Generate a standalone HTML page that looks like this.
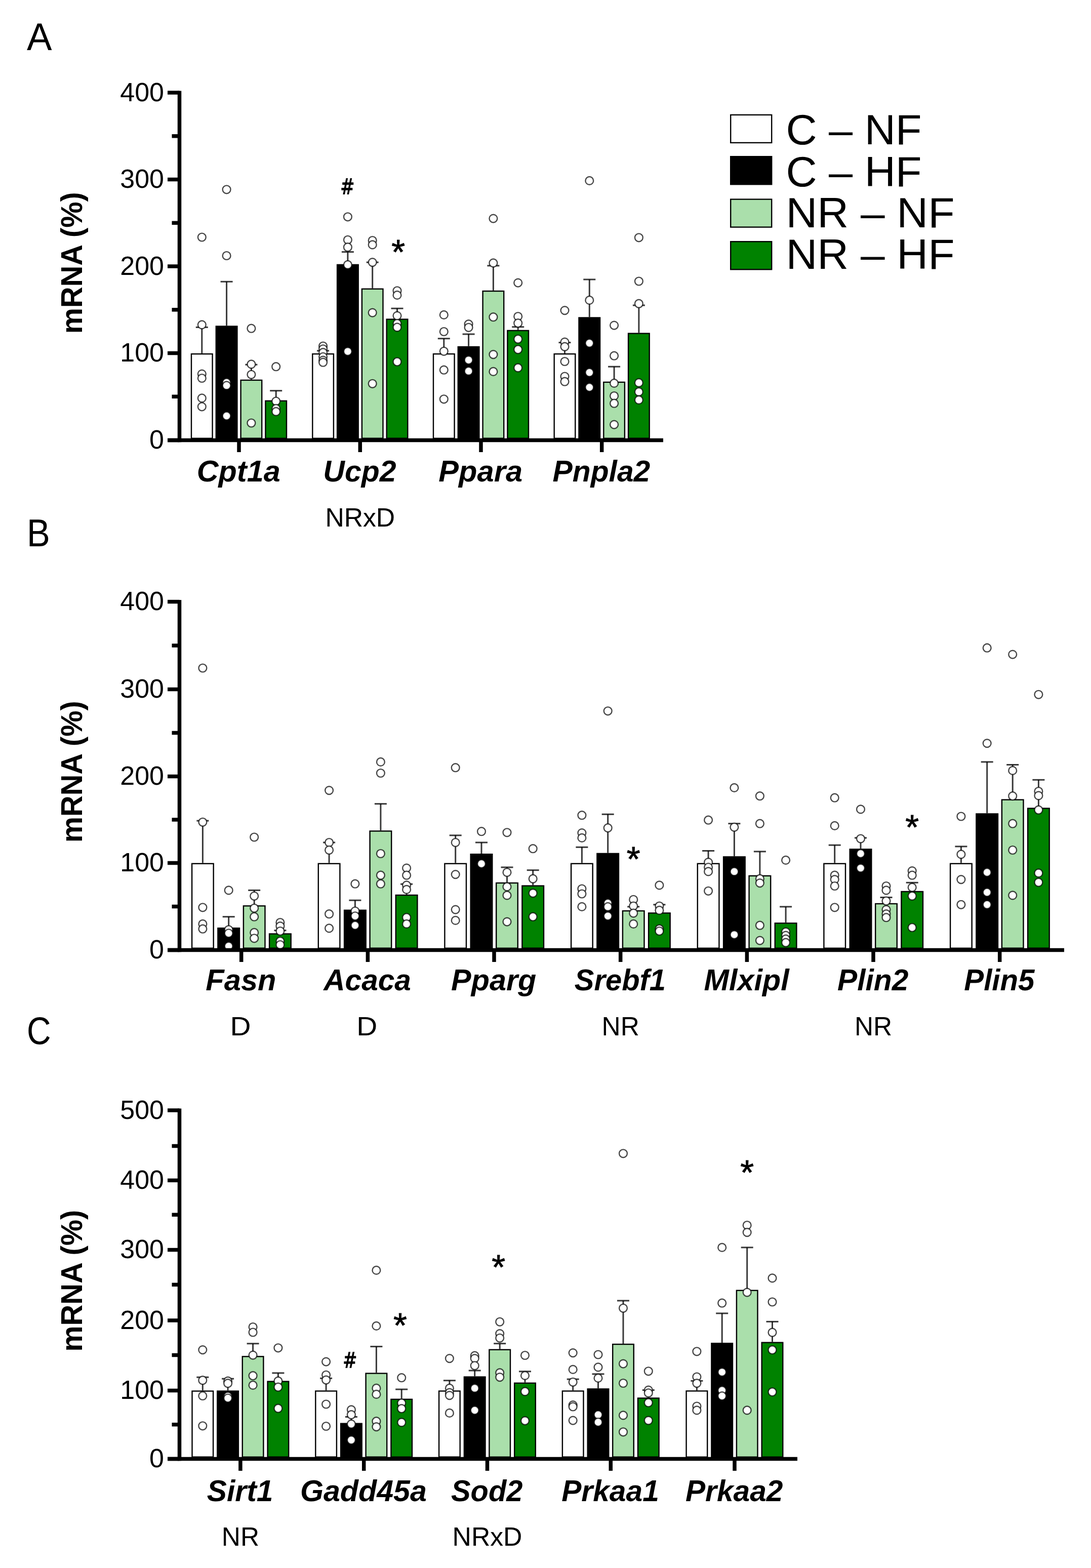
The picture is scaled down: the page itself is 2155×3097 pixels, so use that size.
<!DOCTYPE html>
<html lang="en"><head><meta charset="utf-8"><title>mRNA expression figure</title>
<style>html,body{margin:0;padding:0;background:#fff;}svg{display:block;}text{font-family:"Liberation Sans", Arial, sans-serif;}</style>
</head><body>
<svg width="2155" height="3097" viewBox="0 0 2155 3097">
<rect x="0" y="0" width="2155" height="3097" fill="#ffffff"/>
<text x="53" y="98.5" font-size="76" textLength="49.5" lengthAdjust="spacingAndGlyphs" fill="#000">A</text>
<text x="53" y="1078.6" font-size="76" textLength="45.8" lengthAdjust="spacingAndGlyphs" fill="#000">B</text>
<text x="53" y="2061.7" font-size="76" textLength="47.6" lengthAdjust="spacingAndGlyphs" fill="#000">C</text>
<rect x="1443.2" y="226.9" width="81" height="55" fill="#ffffff" stroke="#000" stroke-width="2.4"/>
<text x="1552.4" y="285" font-size="83" textLength="268.2" lengthAdjust="spacingAndGlyphs" fill="#000">C – NF</text>
<rect x="1443.2" y="309.2" width="81" height="55" fill="#000000" stroke="#000" stroke-width="2.4"/>
<text x="1552.4" y="368" font-size="83" textLength="268.2" lengthAdjust="spacingAndGlyphs" fill="#000">C – HF</text>
<rect x="1443.2" y="393.6" width="81" height="55" fill="#aadfab" stroke="#000" stroke-width="2.4"/>
<text x="1552.4" y="449.3" font-size="83" textLength="333.1" lengthAdjust="spacingAndGlyphs" fill="#000">NR – NF</text>
<rect x="1443.2" y="477.2" width="81" height="55" fill="#008200" stroke="#000" stroke-width="2.4"/>
<text x="1552.4" y="531.3" font-size="83" textLength="333.1" lengthAdjust="spacingAndGlyphs" fill="#000">NR – HF</text>
<text transform="translate(162 519.3) rotate(-90)" text-anchor="middle" font-size="60" font-weight="bold" textLength="280" lengthAdjust="spacingAndGlyphs" fill="#000">mRNA (%)</text>
<line x1="398.8" y1="697.9" x2="398.8" y2="646.4" stroke="#000" stroke-opacity="0.78" stroke-width="3"/>
<line x1="386.8" y1="646.4" x2="410.8" y2="646.4" stroke="#000" stroke-opacity="0.78" stroke-width="3"/>
<rect x="378" y="699.1" width="41.6" height="166.7" fill="#ffffff" stroke="#000" stroke-width="2.4"/>
<circle cx="398.8" cy="468.5" r="7.9" fill="#fff" stroke="#000" stroke-opacity="0.72" stroke-width="2.4"/>
<circle cx="398.8" cy="641.4" r="7.9" fill="#fff" stroke="#000" stroke-opacity="0.72" stroke-width="2.4"/>
<circle cx="398.8" cy="738.6" r="7.9" fill="#fff" stroke="#000" stroke-opacity="0.72" stroke-width="2.4"/>
<circle cx="398.8" cy="747" r="7.9" fill="#fff" stroke="#000" stroke-opacity="0.72" stroke-width="2.4"/>
<circle cx="398.8" cy="786.4" r="7.9" fill="#fff" stroke="#000" stroke-opacity="0.72" stroke-width="2.4"/>
<circle cx="398.8" cy="803.3" r="7.9" fill="#fff" stroke="#000" stroke-opacity="0.72" stroke-width="2.4"/>
<line x1="447.6" y1="643.3" x2="447.6" y2="556.3" stroke="#000" stroke-opacity="0.78" stroke-width="3"/>
<line x1="435.6" y1="556.3" x2="459.6" y2="556.3" stroke="#000" stroke-opacity="0.78" stroke-width="3"/>
<rect x="426.8" y="644.5" width="41.6" height="221.2" fill="#000000" stroke="#000" stroke-width="2.4"/>
<circle cx="447.6" cy="374.3" r="7.9" fill="#fff" stroke="#000" stroke-opacity="0.72" stroke-width="2.4"/>
<circle cx="447.6" cy="505" r="7.9" fill="#fff" stroke="#000" stroke-opacity="0.72" stroke-width="2.4"/>
<circle cx="447.6" cy="755.4" r="7.9" fill="#fff" stroke="#000" stroke-opacity="0.72" stroke-width="2.4"/>
<circle cx="447.6" cy="761.4" r="7.9" fill="#fff" stroke="#000" stroke-opacity="0.72" stroke-width="2.4"/>
<circle cx="447.6" cy="821.5" r="7.9" fill="#fff" stroke="#000" stroke-opacity="0.72" stroke-width="2.4"/>
<line x1="496.4" y1="749.7" x2="496.4" y2="720.2" stroke="#000" stroke-opacity="0.78" stroke-width="3"/>
<line x1="484.4" y1="720.2" x2="508.4" y2="720.2" stroke="#000" stroke-opacity="0.78" stroke-width="3"/>
<rect x="475.6" y="750.9" width="41.6" height="114.8" fill="#aadfab" stroke="#000" stroke-width="2.4"/>
<circle cx="496.4" cy="648.7" r="7.9" fill="#fff" stroke="#000" stroke-opacity="0.72" stroke-width="2.4"/>
<circle cx="496.4" cy="719.4" r="7.9" fill="#fff" stroke="#000" stroke-opacity="0.72" stroke-width="2.4"/>
<circle cx="496.4" cy="739.8" r="7.9" fill="#fff" stroke="#000" stroke-opacity="0.72" stroke-width="2.4"/>
<circle cx="496.4" cy="835.5" r="7.9" fill="#fff" stroke="#000" stroke-opacity="0.72" stroke-width="2.4"/>
<line x1="545.2" y1="790.6" x2="545.2" y2="771.7" stroke="#000" stroke-opacity="0.78" stroke-width="3"/>
<line x1="533.2" y1="771.7" x2="557.2" y2="771.7" stroke="#000" stroke-opacity="0.78" stroke-width="3"/>
<rect x="524.4" y="791.8" width="41.6" height="74" fill="#008200" stroke="#000" stroke-width="2.4"/>
<circle cx="545.2" cy="724.2" r="7.9" fill="#fff" stroke="#000" stroke-opacity="0.72" stroke-width="2.4"/>
<circle cx="545.2" cy="792.5" r="7.9" fill="#fff" stroke="#000" stroke-opacity="0.72" stroke-width="2.4"/>
<circle cx="545.2" cy="806.9" r="7.9" fill="#fff" stroke="#000" stroke-opacity="0.72" stroke-width="2.4"/>
<circle cx="545.2" cy="812.9" r="7.9" fill="#fff" stroke="#000" stroke-opacity="0.72" stroke-width="2.4"/>
<text x="471.2" y="951" text-anchor="middle" font-size="60" font-weight="bold" font-style="italic" fill="#000" textLength="165" lengthAdjust="spacingAndGlyphs">Cpt1a</text>
<line x1="472" y1="869.5" x2="472" y2="893" stroke="#000" stroke-width="7.5"/>
<line x1="638.1" y1="697.9" x2="638.1" y2="692.8" stroke="#000" stroke-opacity="0.78" stroke-width="3"/>
<line x1="626.1" y1="692.8" x2="650.1" y2="692.8" stroke="#000" stroke-opacity="0.78" stroke-width="3"/>
<rect x="617.3" y="699.1" width="41.6" height="166.7" fill="#ffffff" stroke="#000" stroke-width="2.4"/>
<circle cx="638.1" cy="683.5" r="7.9" fill="#fff" stroke="#000" stroke-opacity="0.72" stroke-width="2.4"/>
<circle cx="638.1" cy="689.3" r="7.9" fill="#fff" stroke="#000" stroke-opacity="0.72" stroke-width="2.4"/>
<circle cx="638.1" cy="696.2" r="7.9" fill="#fff" stroke="#000" stroke-opacity="0.72" stroke-width="2.4"/>
<circle cx="638.1" cy="704.8" r="7.9" fill="#fff" stroke="#000" stroke-opacity="0.72" stroke-width="2.4"/>
<circle cx="638.1" cy="711.6" r="7.9" fill="#fff" stroke="#000" stroke-opacity="0.72" stroke-width="2.4"/>
<circle cx="638.1" cy="715.7" r="7.9" fill="#fff" stroke="#000" stroke-opacity="0.72" stroke-width="2.4"/>
<line x1="686.9" y1="521.7" x2="686.9" y2="497.6" stroke="#000" stroke-opacity="0.78" stroke-width="3"/>
<line x1="674.9" y1="497.6" x2="698.9" y2="497.6" stroke="#000" stroke-opacity="0.78" stroke-width="3"/>
<rect x="666.1" y="522.9" width="41.6" height="342.9" fill="#000000" stroke="#000" stroke-width="2.4"/>
<circle cx="686.9" cy="428.3" r="7.9" fill="#fff" stroke="#000" stroke-opacity="0.72" stroke-width="2.4"/>
<circle cx="686.9" cy="473.8" r="7.9" fill="#fff" stroke="#000" stroke-opacity="0.72" stroke-width="2.4"/>
<circle cx="686.9" cy="488.2" r="7.9" fill="#fff" stroke="#000" stroke-opacity="0.72" stroke-width="2.4"/>
<circle cx="686.9" cy="522.9" r="7.9" fill="#fff" stroke="#000" stroke-opacity="0.72" stroke-width="2.4"/>
<circle cx="686.9" cy="694.1" r="7.9" fill="#fff" stroke="#000" stroke-opacity="0.72" stroke-width="2.4"/>
<line x1="735.7" y1="569.5" x2="735.7" y2="518.1" stroke="#000" stroke-opacity="0.78" stroke-width="3"/>
<line x1="723.7" y1="518.1" x2="747.7" y2="518.1" stroke="#000" stroke-opacity="0.78" stroke-width="3"/>
<rect x="714.9" y="570.7" width="41.6" height="295" fill="#aadfab" stroke="#000" stroke-width="2.4"/>
<circle cx="735.7" cy="475" r="7.9" fill="#fff" stroke="#000" stroke-opacity="0.72" stroke-width="2.4"/>
<circle cx="735.7" cy="483.4" r="7.9" fill="#fff" stroke="#000" stroke-opacity="0.72" stroke-width="2.4"/>
<circle cx="735.7" cy="518.1" r="7.9" fill="#fff" stroke="#000" stroke-opacity="0.72" stroke-width="2.4"/>
<circle cx="735.7" cy="617.6" r="7.9" fill="#fff" stroke="#000" stroke-opacity="0.72" stroke-width="2.4"/>
<circle cx="735.7" cy="757.8" r="7.9" fill="#fff" stroke="#000" stroke-opacity="0.72" stroke-width="2.4"/>
<line x1="784.5" y1="629.4" x2="784.5" y2="609.2" stroke="#000" stroke-opacity="0.78" stroke-width="3"/>
<line x1="772.5" y1="609.2" x2="796.5" y2="609.2" stroke="#000" stroke-opacity="0.78" stroke-width="3"/>
<rect x="763.7" y="630.6" width="41.6" height="235.1" fill="#008200" stroke="#000" stroke-width="2.4"/>
<circle cx="784.5" cy="574.3" r="7.9" fill="#fff" stroke="#000" stroke-opacity="0.72" stroke-width="2.4"/>
<circle cx="784.5" cy="582.9" r="7.9" fill="#fff" stroke="#000" stroke-opacity="0.72" stroke-width="2.4"/>
<circle cx="784.5" cy="623.6" r="7.9" fill="#fff" stroke="#000" stroke-opacity="0.72" stroke-width="2.4"/>
<circle cx="784.5" cy="639" r="7.9" fill="#fff" stroke="#000" stroke-opacity="0.72" stroke-width="2.4"/>
<circle cx="784.5" cy="646.4" r="7.9" fill="#fff" stroke="#000" stroke-opacity="0.72" stroke-width="2.4"/>
<circle cx="784.5" cy="714.5" r="7.9" fill="#fff" stroke="#000" stroke-opacity="0.72" stroke-width="2.4"/>
<text x="710.5" y="951" text-anchor="middle" font-size="60" font-weight="bold" font-style="italic" fill="#000" textLength="144.3" lengthAdjust="spacingAndGlyphs">Ucp2</text>
<text x="711.3" y="1040.3" text-anchor="middle" font-size="52" fill="#000" textLength="137.8" lengthAdjust="spacingAndGlyphs">NRxD</text>
<line x1="711.3" y1="869.5" x2="711.3" y2="893" stroke="#000" stroke-width="7.5"/>
<line x1="876.8" y1="697.9" x2="876.8" y2="668.7" stroke="#000" stroke-opacity="0.78" stroke-width="3"/>
<line x1="864.8" y1="668.7" x2="888.8" y2="668.7" stroke="#000" stroke-opacity="0.78" stroke-width="3"/>
<rect x="856" y="699.1" width="41.6" height="166.7" fill="#ffffff" stroke="#000" stroke-width="2.4"/>
<circle cx="876.8" cy="621.9" r="7.9" fill="#fff" stroke="#000" stroke-opacity="0.72" stroke-width="2.4"/>
<circle cx="876.8" cy="655" r="7.9" fill="#fff" stroke="#000" stroke-opacity="0.72" stroke-width="2.4"/>
<circle cx="876.8" cy="693.8" r="7.9" fill="#fff" stroke="#000" stroke-opacity="0.72" stroke-width="2.4"/>
<circle cx="876.8" cy="730.7" r="7.9" fill="#fff" stroke="#000" stroke-opacity="0.72" stroke-width="2.4"/>
<circle cx="876.8" cy="788.3" r="7.9" fill="#fff" stroke="#000" stroke-opacity="0.72" stroke-width="2.4"/>
<line x1="925.6" y1="683.8" x2="925.6" y2="660" stroke="#000" stroke-opacity="0.78" stroke-width="3"/>
<line x1="913.6" y1="660" x2="937.6" y2="660" stroke="#000" stroke-opacity="0.78" stroke-width="3"/>
<rect x="904.8" y="685" width="41.6" height="180.7" fill="#000000" stroke="#000" stroke-width="2.4"/>
<circle cx="925.6" cy="640.2" r="7.9" fill="#fff" stroke="#000" stroke-opacity="0.72" stroke-width="2.4"/>
<circle cx="925.6" cy="646.8" r="7.9" fill="#fff" stroke="#000" stroke-opacity="0.72" stroke-width="2.4"/>
<circle cx="925.6" cy="711.1" r="7.9" fill="#fff" stroke="#000" stroke-opacity="0.72" stroke-width="2.4"/>
<circle cx="925.6" cy="732.9" r="7.9" fill="#fff" stroke="#000" stroke-opacity="0.72" stroke-width="2.4"/>
<line x1="974.4" y1="573.8" x2="974.4" y2="524.8" stroke="#000" stroke-opacity="0.78" stroke-width="3"/>
<line x1="962.4" y1="524.8" x2="986.4" y2="524.8" stroke="#000" stroke-opacity="0.78" stroke-width="3"/>
<rect x="953.6" y="575" width="41.6" height="290.7" fill="#aadfab" stroke="#000" stroke-width="2.4"/>
<circle cx="974.4" cy="431.6" r="7.9" fill="#fff" stroke="#000" stroke-opacity="0.72" stroke-width="2.4"/>
<circle cx="974.4" cy="519.4" r="7.9" fill="#fff" stroke="#000" stroke-opacity="0.72" stroke-width="2.4"/>
<circle cx="974.4" cy="626.2" r="7.9" fill="#fff" stroke="#000" stroke-opacity="0.72" stroke-width="2.4"/>
<circle cx="974.4" cy="700.1" r="7.9" fill="#fff" stroke="#000" stroke-opacity="0.72" stroke-width="2.4"/>
<circle cx="974.4" cy="733.9" r="7.9" fill="#fff" stroke="#000" stroke-opacity="0.72" stroke-width="2.4"/>
<line x1="1023.2" y1="651.7" x2="1023.2" y2="645.7" stroke="#000" stroke-opacity="0.78" stroke-width="3"/>
<line x1="1011.2" y1="645.7" x2="1035.2" y2="645.7" stroke="#000" stroke-opacity="0.78" stroke-width="3"/>
<rect x="1002.4" y="652.9" width="41.6" height="212.8" fill="#008200" stroke="#000" stroke-width="2.4"/>
<circle cx="1023.2" cy="558.6" r="7.9" fill="#fff" stroke="#000" stroke-opacity="0.72" stroke-width="2.4"/>
<circle cx="1023.2" cy="625" r="7.9" fill="#fff" stroke="#000" stroke-opacity="0.72" stroke-width="2.4"/>
<circle cx="1023.2" cy="638.2" r="7.9" fill="#fff" stroke="#000" stroke-opacity="0.72" stroke-width="2.4"/>
<circle cx="1023.2" cy="669.8" r="7.9" fill="#fff" stroke="#000" stroke-opacity="0.72" stroke-width="2.4"/>
<circle cx="1023.2" cy="690.3" r="7.9" fill="#fff" stroke="#000" stroke-opacity="0.72" stroke-width="2.4"/>
<circle cx="1023.2" cy="726.4" r="7.9" fill="#fff" stroke="#000" stroke-opacity="0.72" stroke-width="2.4"/>
<text x="949.2" y="951" text-anchor="middle" font-size="60" font-weight="bold" font-style="italic" fill="#000" textLength="165.7" lengthAdjust="spacingAndGlyphs">Ppara</text>
<line x1="950" y1="869.5" x2="950" y2="893" stroke="#000" stroke-width="7.5"/>
<line x1="1115.5" y1="697.9" x2="1115.5" y2="676.6" stroke="#000" stroke-opacity="0.78" stroke-width="3"/>
<line x1="1103.5" y1="676.6" x2="1127.5" y2="676.6" stroke="#000" stroke-opacity="0.78" stroke-width="3"/>
<rect x="1094.7" y="699.1" width="41.6" height="166.7" fill="#ffffff" stroke="#000" stroke-width="2.4"/>
<circle cx="1115.5" cy="613.1" r="7.9" fill="#fff" stroke="#000" stroke-opacity="0.72" stroke-width="2.4"/>
<circle cx="1115.5" cy="675.6" r="7.9" fill="#fff" stroke="#000" stroke-opacity="0.72" stroke-width="2.4"/>
<circle cx="1115.5" cy="684.7" r="7.9" fill="#fff" stroke="#000" stroke-opacity="0.72" stroke-width="2.4"/>
<circle cx="1115.5" cy="714" r="7.9" fill="#fff" stroke="#000" stroke-opacity="0.72" stroke-width="2.4"/>
<circle cx="1115.5" cy="743.5" r="7.9" fill="#fff" stroke="#000" stroke-opacity="0.72" stroke-width="2.4"/>
<circle cx="1115.5" cy="753.7" r="7.9" fill="#fff" stroke="#000" stroke-opacity="0.72" stroke-width="2.4"/>
<line x1="1164.3" y1="626.3" x2="1164.3" y2="552" stroke="#000" stroke-opacity="0.78" stroke-width="3"/>
<line x1="1152.3" y1="552" x2="1176.3" y2="552" stroke="#000" stroke-opacity="0.78" stroke-width="3"/>
<rect x="1143.5" y="627.5" width="41.6" height="238.2" fill="#000000" stroke="#000" stroke-width="2.4"/>
<circle cx="1164.3" cy="356.9" r="7.9" fill="#fff" stroke="#000" stroke-opacity="0.72" stroke-width="2.4"/>
<circle cx="1164.3" cy="592.9" r="7.9" fill="#fff" stroke="#000" stroke-opacity="0.72" stroke-width="2.4"/>
<circle cx="1164.3" cy="677.8" r="7.9" fill="#fff" stroke="#000" stroke-opacity="0.72" stroke-width="2.4"/>
<circle cx="1164.3" cy="735.7" r="7.9" fill="#fff" stroke="#000" stroke-opacity="0.72" stroke-width="2.4"/>
<circle cx="1164.3" cy="765" r="7.9" fill="#fff" stroke="#000" stroke-opacity="0.72" stroke-width="2.4"/>
<line x1="1213.1" y1="753.7" x2="1213.1" y2="724.2" stroke="#000" stroke-opacity="0.78" stroke-width="3"/>
<line x1="1201.1" y1="724.2" x2="1225.1" y2="724.2" stroke="#000" stroke-opacity="0.78" stroke-width="3"/>
<rect x="1192.3" y="754.9" width="41.6" height="110.9" fill="#aadfab" stroke="#000" stroke-width="2.4"/>
<circle cx="1213.1" cy="642.6" r="7.9" fill="#fff" stroke="#000" stroke-opacity="0.72" stroke-width="2.4"/>
<circle cx="1213.1" cy="702.7" r="7.9" fill="#fff" stroke="#000" stroke-opacity="0.72" stroke-width="2.4"/>
<circle cx="1213.1" cy="756.9" r="7.9" fill="#fff" stroke="#000" stroke-opacity="0.72" stroke-width="2.4"/>
<circle cx="1213.1" cy="782" r="7.9" fill="#fff" stroke="#000" stroke-opacity="0.72" stroke-width="2.4"/>
<circle cx="1213.1" cy="796.7" r="7.9" fill="#fff" stroke="#000" stroke-opacity="0.72" stroke-width="2.4"/>
<circle cx="1213.1" cy="838.6" r="7.9" fill="#fff" stroke="#000" stroke-opacity="0.72" stroke-width="2.4"/>
<line x1="1261.9" y1="657.4" x2="1261.9" y2="603" stroke="#000" stroke-opacity="0.78" stroke-width="3"/>
<line x1="1249.9" y1="603" x2="1273.9" y2="603" stroke="#000" stroke-opacity="0.78" stroke-width="3"/>
<rect x="1241.1" y="658.6" width="41.6" height="207.1" fill="#008200" stroke="#000" stroke-width="2.4"/>
<circle cx="1261.9" cy="469.3" r="7.9" fill="#fff" stroke="#000" stroke-opacity="0.72" stroke-width="2.4"/>
<circle cx="1261.9" cy="555.5" r="7.9" fill="#fff" stroke="#000" stroke-opacity="0.72" stroke-width="2.4"/>
<circle cx="1261.9" cy="599.7" r="7.9" fill="#fff" stroke="#000" stroke-opacity="0.72" stroke-width="2.4"/>
<circle cx="1261.9" cy="755.9" r="7.9" fill="#fff" stroke="#000" stroke-opacity="0.72" stroke-width="2.4"/>
<circle cx="1261.9" cy="773.9" r="7.9" fill="#fff" stroke="#000" stroke-opacity="0.72" stroke-width="2.4"/>
<circle cx="1261.9" cy="789.9" r="7.9" fill="#fff" stroke="#000" stroke-opacity="0.72" stroke-width="2.4"/>
<text x="1187.9" y="951" text-anchor="middle" font-size="60" font-weight="bold" font-style="italic" fill="#000" textLength="192.8" lengthAdjust="spacingAndGlyphs">Pnpla2</text>
<line x1="1188.7" y1="869.5" x2="1188.7" y2="893" stroke="#000" stroke-width="7.5"/>
<line x1="354.5" y1="179.5" x2="354.5" y2="873.2" stroke="#000" stroke-width="7.5"/>
<line x1="331" y1="869.5" x2="1310" y2="869.5" stroke="#000" stroke-width="7.5"/>
<line x1="331" y1="183" x2="354.5" y2="183" stroke="#000" stroke-width="7.5"/>
<text x="324" y="199.6" text-anchor="end" font-size="52" fill="#000">400</text>
<line x1="331" y1="354.5" x2="354.5" y2="354.5" stroke="#000" stroke-width="7.5"/>
<text x="324" y="371.1" text-anchor="end" font-size="52" fill="#000">300</text>
<line x1="331" y1="526" x2="354.5" y2="526" stroke="#000" stroke-width="7.5"/>
<text x="324" y="542.6" text-anchor="end" font-size="52" fill="#000">200</text>
<line x1="331" y1="697.5" x2="354.5" y2="697.5" stroke="#000" stroke-width="7.5"/>
<text x="324" y="714.1" text-anchor="end" font-size="52" fill="#000">100</text>
<line x1="331" y1="869.5" x2="354.5" y2="869.5" stroke="#000" stroke-width="7.5"/>
<text x="324" y="886.1" text-anchor="end" font-size="52" fill="#000">0</text>
<line x1="339.5" y1="268.8" x2="354.5" y2="268.8" stroke="#000" stroke-width="7.5"/>
<line x1="339.5" y1="440.3" x2="354.5" y2="440.3" stroke="#000" stroke-width="7.5"/>
<line x1="339.5" y1="611.8" x2="354.5" y2="611.8" stroke="#000" stroke-width="7.5"/>
<line x1="339.5" y1="783.3" x2="354.5" y2="783.3" stroke="#000" stroke-width="7.5"/>
<text x="686.3" y="384.4" text-anchor="middle" font-size="44" font-weight="bold" textLength="28.6" lengthAdjust="spacingAndGlyphs" style="font-family:'DejaVu Sans',sans-serif" fill="#000">#</text>
<text x="786.8" y="521.3" text-anchor="middle" font-size="69" fill="#000" stroke="#000" stroke-width="0.9">*</text>
<text transform="translate(162 1524.3) rotate(-90)" text-anchor="middle" font-size="60" font-weight="bold" textLength="280" lengthAdjust="spacingAndGlyphs" fill="#000">mRNA (%)</text>
<line x1="400.4" y1="1704.6" x2="400.4" y2="1621.1" stroke="#000" stroke-opacity="0.78" stroke-width="3"/>
<line x1="388.4" y1="1621.1" x2="412.4" y2="1621.1" stroke="#000" stroke-opacity="0.78" stroke-width="3"/>
<rect x="379.1" y="1705.8" width="42.6" height="167" fill="#ffffff" stroke="#000" stroke-width="2.4"/>
<circle cx="400.4" cy="1319.5" r="7.9" fill="#fff" stroke="#000" stroke-opacity="0.72" stroke-width="2.4"/>
<circle cx="400.4" cy="1623.8" r="7.9" fill="#fff" stroke="#000" stroke-opacity="0.72" stroke-width="2.4"/>
<circle cx="400.4" cy="1792.3" r="7.9" fill="#fff" stroke="#000" stroke-opacity="0.72" stroke-width="2.4"/>
<circle cx="400.4" cy="1824.9" r="7.9" fill="#fff" stroke="#000" stroke-opacity="0.72" stroke-width="2.4"/>
<circle cx="400.4" cy="1834.7" r="7.9" fill="#fff" stroke="#000" stroke-opacity="0.72" stroke-width="2.4"/>
<line x1="451.7" y1="1832" x2="451.7" y2="1810.7" stroke="#000" stroke-opacity="0.78" stroke-width="3"/>
<line x1="439.7" y1="1810.7" x2="463.7" y2="1810.7" stroke="#000" stroke-opacity="0.78" stroke-width="3"/>
<rect x="430.4" y="1833.2" width="42.6" height="39.6" fill="#000000" stroke="#000" stroke-width="2.4"/>
<circle cx="451.7" cy="1758.4" r="7.9" fill="#fff" stroke="#000" stroke-opacity="0.72" stroke-width="2.4"/>
<circle cx="451.7" cy="1836.3" r="7.9" fill="#fff" stroke="#000" stroke-opacity="0.72" stroke-width="2.4"/>
<circle cx="451.7" cy="1843.3" r="7.9" fill="#fff" stroke="#000" stroke-opacity="0.72" stroke-width="2.4"/>
<circle cx="451.7" cy="1868.8" r="7.9" fill="#fff" stroke="#000" stroke-opacity="0.72" stroke-width="2.4"/>
<line x1="502.2" y1="1788.1" x2="502.2" y2="1758.4" stroke="#000" stroke-opacity="0.78" stroke-width="3"/>
<line x1="490.2" y1="1758.4" x2="514.2" y2="1758.4" stroke="#000" stroke-opacity="0.78" stroke-width="3"/>
<rect x="480.9" y="1789.3" width="42.6" height="83.4" fill="#aadfab" stroke="#000" stroke-width="2.4"/>
<circle cx="502.2" cy="1653.5" r="7.9" fill="#fff" stroke="#000" stroke-opacity="0.72" stroke-width="2.4"/>
<circle cx="502.2" cy="1769.8" r="7.9" fill="#fff" stroke="#000" stroke-opacity="0.72" stroke-width="2.4"/>
<circle cx="502.2" cy="1793.8" r="7.9" fill="#fff" stroke="#000" stroke-opacity="0.72" stroke-width="2.4"/>
<circle cx="502.2" cy="1810.7" r="7.9" fill="#fff" stroke="#000" stroke-opacity="0.72" stroke-width="2.4"/>
<circle cx="502.2" cy="1841.9" r="7.9" fill="#fff" stroke="#000" stroke-opacity="0.72" stroke-width="2.4"/>
<circle cx="502.2" cy="1853.3" r="7.9" fill="#fff" stroke="#000" stroke-opacity="0.72" stroke-width="2.4"/>
<line x1="553.4" y1="1843.3" x2="553.4" y2="1837.7" stroke="#000" stroke-opacity="0.78" stroke-width="3"/>
<line x1="541.4" y1="1837.7" x2="565.4" y2="1837.7" stroke="#000" stroke-opacity="0.78" stroke-width="3"/>
<rect x="532.1" y="1844.5" width="42.6" height="28.2" fill="#008200" stroke="#000" stroke-width="2.4"/>
<circle cx="553.4" cy="1822" r="7.9" fill="#fff" stroke="#000" stroke-opacity="0.72" stroke-width="2.4"/>
<circle cx="553.4" cy="1829.2" r="7.9" fill="#fff" stroke="#000" stroke-opacity="0.72" stroke-width="2.4"/>
<circle cx="553.4" cy="1839" r="7.9" fill="#fff" stroke="#000" stroke-opacity="0.72" stroke-width="2.4"/>
<circle cx="553.4" cy="1859" r="7.9" fill="#fff" stroke="#000" stroke-opacity="0.72" stroke-width="2.4"/>
<circle cx="553.4" cy="1866" r="7.9" fill="#fff" stroke="#000" stroke-opacity="0.72" stroke-width="2.4"/>
<text x="475.9" y="1956" text-anchor="middle" font-size="60" font-weight="bold" font-style="italic" fill="#000" textLength="139.2" lengthAdjust="spacingAndGlyphs">Fasn</text>
<text x="475.1" y="2045" text-anchor="middle" font-size="52" fill="#000" textLength="41" lengthAdjust="spacingAndGlyphs">D</text>
<line x1="476.7" y1="1876.5" x2="476.7" y2="1900" stroke="#000" stroke-width="7.5"/>
<line x1="650.1" y1="1704.6" x2="650.1" y2="1664" stroke="#000" stroke-opacity="0.78" stroke-width="3"/>
<line x1="638.1" y1="1664" x2="662.1" y2="1664" stroke="#000" stroke-opacity="0.78" stroke-width="3"/>
<rect x="628.8" y="1705.8" width="42.6" height="167" fill="#ffffff" stroke="#000" stroke-width="2.4"/>
<circle cx="650.1" cy="1561.1" r="7.9" fill="#fff" stroke="#000" stroke-opacity="0.72" stroke-width="2.4"/>
<circle cx="650.1" cy="1664" r="7.9" fill="#fff" stroke="#000" stroke-opacity="0.72" stroke-width="2.4"/>
<circle cx="650.1" cy="1679" r="7.9" fill="#fff" stroke="#000" stroke-opacity="0.72" stroke-width="2.4"/>
<circle cx="650.1" cy="1805.2" r="7.9" fill="#fff" stroke="#000" stroke-opacity="0.72" stroke-width="2.4"/>
<circle cx="650.1" cy="1833.4" r="7.9" fill="#fff" stroke="#000" stroke-opacity="0.72" stroke-width="2.4"/>
<line x1="701.4" y1="1796.6" x2="701.4" y2="1778.2" stroke="#000" stroke-opacity="0.78" stroke-width="3"/>
<line x1="689.4" y1="1778.2" x2="713.4" y2="1778.2" stroke="#000" stroke-opacity="0.78" stroke-width="3"/>
<rect x="680.1" y="1797.8" width="42.6" height="75" fill="#000000" stroke="#000" stroke-width="2.4"/>
<circle cx="701.4" cy="1745.7" r="7.9" fill="#fff" stroke="#000" stroke-opacity="0.72" stroke-width="2.4"/>
<circle cx="701.4" cy="1799.5" r="7.9" fill="#fff" stroke="#000" stroke-opacity="0.72" stroke-width="2.4"/>
<circle cx="701.4" cy="1809.3" r="7.9" fill="#fff" stroke="#000" stroke-opacity="0.72" stroke-width="2.4"/>
<circle cx="701.4" cy="1827.7" r="7.9" fill="#fff" stroke="#000" stroke-opacity="0.72" stroke-width="2.4"/>
<line x1="751.9" y1="1640.3" x2="751.9" y2="1587.7" stroke="#000" stroke-opacity="0.78" stroke-width="3"/>
<line x1="739.9" y1="1587.7" x2="763.9" y2="1587.7" stroke="#000" stroke-opacity="0.78" stroke-width="3"/>
<rect x="730.6" y="1641.5" width="42.6" height="231.2" fill="#aadfab" stroke="#000" stroke-width="2.4"/>
<circle cx="751.9" cy="1504.9" r="7.9" fill="#fff" stroke="#000" stroke-opacity="0.72" stroke-width="2.4"/>
<circle cx="751.9" cy="1527" r="7.9" fill="#fff" stroke="#000" stroke-opacity="0.72" stroke-width="2.4"/>
<circle cx="751.9" cy="1686" r="7.9" fill="#fff" stroke="#000" stroke-opacity="0.72" stroke-width="2.4"/>
<circle cx="751.9" cy="1728.7" r="7.9" fill="#fff" stroke="#000" stroke-opacity="0.72" stroke-width="2.4"/>
<circle cx="751.9" cy="1745.7" r="7.9" fill="#fff" stroke="#000" stroke-opacity="0.72" stroke-width="2.4"/>
<line x1="803.1" y1="1766.8" x2="803.1" y2="1746.2" stroke="#000" stroke-opacity="0.78" stroke-width="3"/>
<line x1="791.1" y1="1746.2" x2="815.1" y2="1746.2" stroke="#000" stroke-opacity="0.78" stroke-width="3"/>
<rect x="781.8" y="1768" width="42.6" height="104.7" fill="#008200" stroke="#000" stroke-width="2.4"/>
<circle cx="803.1" cy="1714.6" r="7.9" fill="#fff" stroke="#000" stroke-opacity="0.72" stroke-width="2.4"/>
<circle cx="803.1" cy="1728.7" r="7.9" fill="#fff" stroke="#000" stroke-opacity="0.72" stroke-width="2.4"/>
<circle cx="803.1" cy="1748.4" r="7.9" fill="#fff" stroke="#000" stroke-opacity="0.72" stroke-width="2.4"/>
<circle cx="803.1" cy="1756.9" r="7.9" fill="#fff" stroke="#000" stroke-opacity="0.72" stroke-width="2.4"/>
<circle cx="803.1" cy="1812.2" r="7.9" fill="#fff" stroke="#000" stroke-opacity="0.72" stroke-width="2.4"/>
<circle cx="803.1" cy="1824.9" r="7.9" fill="#fff" stroke="#000" stroke-opacity="0.72" stroke-width="2.4"/>
<text x="725.6" y="1956" text-anchor="middle" font-size="60" font-weight="bold" font-style="italic" fill="#000" textLength="172.5" lengthAdjust="spacingAndGlyphs">Acaca</text>
<text x="724.8" y="2045" text-anchor="middle" font-size="52" fill="#000" textLength="41" lengthAdjust="spacingAndGlyphs">D</text>
<line x1="726.4" y1="1876.5" x2="726.4" y2="1900" stroke="#000" stroke-width="7.5"/>
<line x1="899.7" y1="1704.6" x2="899.7" y2="1649.9" stroke="#000" stroke-opacity="0.78" stroke-width="3"/>
<line x1="887.7" y1="1649.9" x2="911.7" y2="1649.9" stroke="#000" stroke-opacity="0.78" stroke-width="3"/>
<rect x="878.4" y="1705.8" width="42.6" height="167" fill="#ffffff" stroke="#000" stroke-width="2.4"/>
<circle cx="899.7" cy="1516.2" r="7.9" fill="#fff" stroke="#000" stroke-opacity="0.72" stroke-width="2.4"/>
<circle cx="899.7" cy="1664" r="7.9" fill="#fff" stroke="#000" stroke-opacity="0.72" stroke-width="2.4"/>
<circle cx="899.7" cy="1727.1" r="7.9" fill="#fff" stroke="#000" stroke-opacity="0.72" stroke-width="2.4"/>
<circle cx="899.7" cy="1796.6" r="7.9" fill="#fff" stroke="#000" stroke-opacity="0.72" stroke-width="2.4"/>
<circle cx="899.7" cy="1817.9" r="7.9" fill="#fff" stroke="#000" stroke-opacity="0.72" stroke-width="2.4"/>
<line x1="951" y1="1686" x2="951" y2="1664" stroke="#000" stroke-opacity="0.78" stroke-width="3"/>
<line x1="939" y1="1664" x2="963" y2="1664" stroke="#000" stroke-opacity="0.78" stroke-width="3"/>
<rect x="929.7" y="1687.2" width="42.6" height="185.5" fill="#000000" stroke="#000" stroke-width="2.4"/>
<circle cx="951" cy="1642.2" r="7.9" fill="#fff" stroke="#000" stroke-opacity="0.72" stroke-width="2.4"/>
<circle cx="951" cy="1706" r="7.9" fill="#fff" stroke="#000" stroke-opacity="0.72" stroke-width="2.4"/>
<line x1="1001.5" y1="1742.8" x2="1001.5" y2="1713" stroke="#000" stroke-opacity="0.78" stroke-width="3"/>
<line x1="989.5" y1="1713" x2="1013.5" y2="1713" stroke="#000" stroke-opacity="0.78" stroke-width="3"/>
<rect x="980.2" y="1744" width="42.6" height="128.8" fill="#aadfab" stroke="#000" stroke-width="2.4"/>
<circle cx="1001.5" cy="1644.3" r="7.9" fill="#fff" stroke="#000" stroke-opacity="0.72" stroke-width="2.4"/>
<circle cx="1001.5" cy="1723" r="7.9" fill="#fff" stroke="#000" stroke-opacity="0.72" stroke-width="2.4"/>
<circle cx="1001.5" cy="1751.4" r="7.9" fill="#fff" stroke="#000" stroke-opacity="0.72" stroke-width="2.4"/>
<circle cx="1001.5" cy="1768.4" r="7.9" fill="#fff" stroke="#000" stroke-opacity="0.72" stroke-width="2.4"/>
<circle cx="1001.5" cy="1820.6" r="7.9" fill="#fff" stroke="#000" stroke-opacity="0.72" stroke-width="2.4"/>
<line x1="1052.7" y1="1748.4" x2="1052.7" y2="1718.7" stroke="#000" stroke-opacity="0.78" stroke-width="3"/>
<line x1="1040.7" y1="1718.7" x2="1064.7" y2="1718.7" stroke="#000" stroke-opacity="0.78" stroke-width="3"/>
<rect x="1031.4" y="1749.6" width="42.6" height="123.1" fill="#008200" stroke="#000" stroke-width="2.4"/>
<circle cx="1052.7" cy="1676.2" r="7.9" fill="#fff" stroke="#000" stroke-opacity="0.72" stroke-width="2.4"/>
<circle cx="1052.7" cy="1735.7" r="7.9" fill="#fff" stroke="#000" stroke-opacity="0.72" stroke-width="2.4"/>
<circle cx="1052.7" cy="1764.1" r="7.9" fill="#fff" stroke="#000" stroke-opacity="0.72" stroke-width="2.4"/>
<circle cx="1052.7" cy="1810.7" r="7.9" fill="#fff" stroke="#000" stroke-opacity="0.72" stroke-width="2.4"/>
<text x="975.2" y="1956" text-anchor="middle" font-size="60" font-weight="bold" font-style="italic" fill="#000" textLength="168.2" lengthAdjust="spacingAndGlyphs">Pparg</text>
<line x1="976" y1="1876.5" x2="976" y2="1900" stroke="#000" stroke-width="7.5"/>
<line x1="1149.4" y1="1704.6" x2="1149.4" y2="1673.3" stroke="#000" stroke-opacity="0.78" stroke-width="3"/>
<line x1="1137.4" y1="1673.3" x2="1161.4" y2="1673.3" stroke="#000" stroke-opacity="0.78" stroke-width="3"/>
<rect x="1128.1" y="1705.8" width="42.6" height="167" fill="#ffffff" stroke="#000" stroke-width="2.4"/>
<circle cx="1149.4" cy="1610.2" r="7.9" fill="#fff" stroke="#000" stroke-opacity="0.72" stroke-width="2.4"/>
<circle cx="1149.4" cy="1645.1" r="7.9" fill="#fff" stroke="#000" stroke-opacity="0.72" stroke-width="2.4"/>
<circle cx="1149.4" cy="1654.9" r="7.9" fill="#fff" stroke="#000" stroke-opacity="0.72" stroke-width="2.4"/>
<circle cx="1149.4" cy="1755.5" r="7.9" fill="#fff" stroke="#000" stroke-opacity="0.72" stroke-width="2.4"/>
<circle cx="1149.4" cy="1765.5" r="7.9" fill="#fff" stroke="#000" stroke-opacity="0.72" stroke-width="2.4"/>
<circle cx="1149.4" cy="1790.9" r="7.9" fill="#fff" stroke="#000" stroke-opacity="0.72" stroke-width="2.4"/>
<line x1="1200.7" y1="1684.7" x2="1200.7" y2="1608.3" stroke="#000" stroke-opacity="0.78" stroke-width="3"/>
<line x1="1188.7" y1="1608.3" x2="1212.7" y2="1608.3" stroke="#000" stroke-opacity="0.78" stroke-width="3"/>
<rect x="1179.4" y="1685.9" width="42.6" height="186.9" fill="#000000" stroke="#000" stroke-width="2.4"/>
<circle cx="1200.7" cy="1404.3" r="7.9" fill="#fff" stroke="#000" stroke-opacity="0.72" stroke-width="2.4"/>
<circle cx="1200.7" cy="1635.2" r="7.9" fill="#fff" stroke="#000" stroke-opacity="0.72" stroke-width="2.4"/>
<circle cx="1200.7" cy="1783.8" r="7.9" fill="#fff" stroke="#000" stroke-opacity="0.72" stroke-width="2.4"/>
<circle cx="1200.7" cy="1790.9" r="7.9" fill="#fff" stroke="#000" stroke-opacity="0.72" stroke-width="2.4"/>
<circle cx="1200.7" cy="1809.3" r="7.9" fill="#fff" stroke="#000" stroke-opacity="0.72" stroke-width="2.4"/>
<line x1="1251.2" y1="1797.9" x2="1251.2" y2="1790.9" stroke="#000" stroke-opacity="0.78" stroke-width="3"/>
<line x1="1239.2" y1="1790.9" x2="1263.2" y2="1790.9" stroke="#000" stroke-opacity="0.78" stroke-width="3"/>
<rect x="1229.9" y="1799.1" width="42.6" height="73.6" fill="#aadfab" stroke="#000" stroke-width="2.4"/>
<circle cx="1251.2" cy="1776.8" r="7.9" fill="#fff" stroke="#000" stroke-opacity="0.72" stroke-width="2.4"/>
<circle cx="1251.2" cy="1789.5" r="7.9" fill="#fff" stroke="#000" stroke-opacity="0.72" stroke-width="2.4"/>
<circle cx="1251.2" cy="1803.6" r="7.9" fill="#fff" stroke="#000" stroke-opacity="0.72" stroke-width="2.4"/>
<circle cx="1251.2" cy="1824.9" r="7.9" fill="#fff" stroke="#000" stroke-opacity="0.72" stroke-width="2.4"/>
<line x1="1302.4" y1="1802.2" x2="1302.4" y2="1786.8" stroke="#000" stroke-opacity="0.78" stroke-width="3"/>
<line x1="1290.4" y1="1786.8" x2="1314.4" y2="1786.8" stroke="#000" stroke-opacity="0.78" stroke-width="3"/>
<rect x="1281.1" y="1803.4" width="42.6" height="69.3" fill="#008200" stroke="#000" stroke-width="2.4"/>
<circle cx="1302.4" cy="1748.4" r="7.9" fill="#fff" stroke="#000" stroke-opacity="0.72" stroke-width="2.4"/>
<circle cx="1302.4" cy="1789.5" r="7.9" fill="#fff" stroke="#000" stroke-opacity="0.72" stroke-width="2.4"/>
<circle cx="1302.4" cy="1797.9" r="7.9" fill="#fff" stroke="#000" stroke-opacity="0.72" stroke-width="2.4"/>
<circle cx="1302.4" cy="1834.7" r="7.9" fill="#fff" stroke="#000" stroke-opacity="0.72" stroke-width="2.4"/>
<circle cx="1302.4" cy="1839" r="7.9" fill="#fff" stroke="#000" stroke-opacity="0.72" stroke-width="2.4"/>
<text x="1224.9" y="1956" text-anchor="middle" font-size="60" font-weight="bold" font-style="italic" fill="#000" textLength="180.2" lengthAdjust="spacingAndGlyphs">Srebf1</text>
<text x="1225.7" y="2045" text-anchor="middle" font-size="52" fill="#000" textLength="74.2" lengthAdjust="spacingAndGlyphs">NR</text>
<line x1="1225.7" y1="1876.5" x2="1225.7" y2="1900" stroke="#000" stroke-width="7.5"/>
<line x1="1399.1" y1="1704.6" x2="1399.1" y2="1680.5" stroke="#000" stroke-opacity="0.78" stroke-width="3"/>
<line x1="1387.1" y1="1680.5" x2="1411.1" y2="1680.5" stroke="#000" stroke-opacity="0.78" stroke-width="3"/>
<rect x="1377.8" y="1705.8" width="42.6" height="167" fill="#ffffff" stroke="#000" stroke-width="2.4"/>
<circle cx="1399.1" cy="1619.7" r="7.9" fill="#fff" stroke="#000" stroke-opacity="0.72" stroke-width="2.4"/>
<circle cx="1399.1" cy="1703.1" r="7.9" fill="#fff" stroke="#000" stroke-opacity="0.72" stroke-width="2.4"/>
<circle cx="1399.1" cy="1713" r="7.9" fill="#fff" stroke="#000" stroke-opacity="0.72" stroke-width="2.4"/>
<circle cx="1399.1" cy="1721.4" r="7.9" fill="#fff" stroke="#000" stroke-opacity="0.72" stroke-width="2.4"/>
<circle cx="1399.1" cy="1759.8" r="7.9" fill="#fff" stroke="#000" stroke-opacity="0.72" stroke-width="2.4"/>
<line x1="1450.4" y1="1691.2" x2="1450.4" y2="1626.7" stroke="#000" stroke-opacity="0.78" stroke-width="3"/>
<line x1="1438.4" y1="1626.7" x2="1462.4" y2="1626.7" stroke="#000" stroke-opacity="0.78" stroke-width="3"/>
<rect x="1429.1" y="1692.4" width="42.6" height="180.4" fill="#000000" stroke="#000" stroke-width="2.4"/>
<circle cx="1450.4" cy="1555.9" r="7.9" fill="#fff" stroke="#000" stroke-opacity="0.72" stroke-width="2.4"/>
<circle cx="1450.4" cy="1633.8" r="7.9" fill="#fff" stroke="#000" stroke-opacity="0.72" stroke-width="2.4"/>
<circle cx="1450.4" cy="1721.4" r="7.9" fill="#fff" stroke="#000" stroke-opacity="0.72" stroke-width="2.4"/>
<circle cx="1450.4" cy="1846.1" r="7.9" fill="#fff" stroke="#000" stroke-opacity="0.72" stroke-width="2.4"/>
<line x1="1500.9" y1="1728.7" x2="1500.9" y2="1681.9" stroke="#000" stroke-opacity="0.78" stroke-width="3"/>
<line x1="1488.9" y1="1681.9" x2="1512.9" y2="1681.9" stroke="#000" stroke-opacity="0.78" stroke-width="3"/>
<rect x="1479.6" y="1729.9" width="42.6" height="142.9" fill="#aadfab" stroke="#000" stroke-width="2.4"/>
<circle cx="1500.9" cy="1572.2" r="7.9" fill="#fff" stroke="#000" stroke-opacity="0.72" stroke-width="2.4"/>
<circle cx="1500.9" cy="1626.7" r="7.9" fill="#fff" stroke="#000" stroke-opacity="0.72" stroke-width="2.4"/>
<circle cx="1500.9" cy="1735.7" r="7.9" fill="#fff" stroke="#000" stroke-opacity="0.72" stroke-width="2.4"/>
<circle cx="1500.9" cy="1744.1" r="7.9" fill="#fff" stroke="#000" stroke-opacity="0.72" stroke-width="2.4"/>
<circle cx="1500.9" cy="1827.7" r="7.9" fill="#fff" stroke="#000" stroke-opacity="0.72" stroke-width="2.4"/>
<circle cx="1500.9" cy="1857.6" r="7.9" fill="#fff" stroke="#000" stroke-opacity="0.72" stroke-width="2.4"/>
<line x1="1552.1" y1="1822.2" x2="1552.1" y2="1790.9" stroke="#000" stroke-opacity="0.78" stroke-width="3"/>
<line x1="1540.1" y1="1790.9" x2="1564.1" y2="1790.9" stroke="#000" stroke-opacity="0.78" stroke-width="3"/>
<rect x="1530.8" y="1823.4" width="42.6" height="49.4" fill="#008200" stroke="#000" stroke-width="2.4"/>
<circle cx="1552.1" cy="1698.9" r="7.9" fill="#fff" stroke="#000" stroke-opacity="0.72" stroke-width="2.4"/>
<circle cx="1552.1" cy="1840.6" r="7.9" fill="#fff" stroke="#000" stroke-opacity="0.72" stroke-width="2.4"/>
<circle cx="1552.1" cy="1847.6" r="7.9" fill="#fff" stroke="#000" stroke-opacity="0.72" stroke-width="2.4"/>
<circle cx="1552.1" cy="1854.7" r="7.9" fill="#fff" stroke="#000" stroke-opacity="0.72" stroke-width="2.4"/>
<circle cx="1552.1" cy="1861.7" r="7.9" fill="#fff" stroke="#000" stroke-opacity="0.72" stroke-width="2.4"/>
<text x="1474.6" y="1956" text-anchor="middle" font-size="60" font-weight="bold" font-style="italic" fill="#000" textLength="168.1" lengthAdjust="spacingAndGlyphs">Mlxipl</text>
<line x1="1475.4" y1="1876.5" x2="1475.4" y2="1900" stroke="#000" stroke-width="7.5"/>
<line x1="1648.7" y1="1704.6" x2="1648.7" y2="1669.2" stroke="#000" stroke-opacity="0.78" stroke-width="3"/>
<line x1="1636.7" y1="1669.2" x2="1660.7" y2="1669.2" stroke="#000" stroke-opacity="0.78" stroke-width="3"/>
<rect x="1627.4" y="1705.8" width="42.6" height="167" fill="#ffffff" stroke="#000" stroke-width="2.4"/>
<circle cx="1648.7" cy="1575.7" r="7.9" fill="#fff" stroke="#000" stroke-opacity="0.72" stroke-width="2.4"/>
<circle cx="1648.7" cy="1630.9" r="7.9" fill="#fff" stroke="#000" stroke-opacity="0.72" stroke-width="2.4"/>
<circle cx="1648.7" cy="1728.7" r="7.9" fill="#fff" stroke="#000" stroke-opacity="0.72" stroke-width="2.4"/>
<circle cx="1648.7" cy="1737.1" r="7.9" fill="#fff" stroke="#000" stroke-opacity="0.72" stroke-width="2.4"/>
<circle cx="1648.7" cy="1750" r="7.9" fill="#fff" stroke="#000" stroke-opacity="0.72" stroke-width="2.4"/>
<circle cx="1648.7" cy="1792.3" r="7.9" fill="#fff" stroke="#000" stroke-opacity="0.72" stroke-width="2.4"/>
<line x1="1700" y1="1676.2" x2="1700" y2="1654.9" stroke="#000" stroke-opacity="0.78" stroke-width="3"/>
<line x1="1688" y1="1654.9" x2="1712" y2="1654.9" stroke="#000" stroke-opacity="0.78" stroke-width="3"/>
<rect x="1678.7" y="1677.4" width="42.6" height="195.3" fill="#000000" stroke="#000" stroke-width="2.4"/>
<circle cx="1700" cy="1598.4" r="7.9" fill="#fff" stroke="#000" stroke-opacity="0.72" stroke-width="2.4"/>
<circle cx="1700" cy="1656.5" r="7.9" fill="#fff" stroke="#000" stroke-opacity="0.72" stroke-width="2.4"/>
<circle cx="1700" cy="1686" r="7.9" fill="#fff" stroke="#000" stroke-opacity="0.72" stroke-width="2.4"/>
<circle cx="1700" cy="1714.6" r="7.9" fill="#fff" stroke="#000" stroke-opacity="0.72" stroke-width="2.4"/>
<line x1="1750.5" y1="1783.8" x2="1750.5" y2="1772.5" stroke="#000" stroke-opacity="0.78" stroke-width="3"/>
<line x1="1738.5" y1="1772.5" x2="1762.5" y2="1772.5" stroke="#000" stroke-opacity="0.78" stroke-width="3"/>
<rect x="1729.2" y="1785" width="42.6" height="87.7" fill="#aadfab" stroke="#000" stroke-width="2.4"/>
<circle cx="1750.5" cy="1750" r="7.9" fill="#fff" stroke="#000" stroke-opacity="0.72" stroke-width="2.4"/>
<circle cx="1750.5" cy="1758.4" r="7.9" fill="#fff" stroke="#000" stroke-opacity="0.72" stroke-width="2.4"/>
<circle cx="1750.5" cy="1779.5" r="7.9" fill="#fff" stroke="#000" stroke-opacity="0.72" stroke-width="2.4"/>
<circle cx="1750.5" cy="1796.6" r="7.9" fill="#fff" stroke="#000" stroke-opacity="0.72" stroke-width="2.4"/>
<circle cx="1750.5" cy="1805.2" r="7.9" fill="#fff" stroke="#000" stroke-opacity="0.72" stroke-width="2.4"/>
<circle cx="1750.5" cy="1812.2" r="7.9" fill="#fff" stroke="#000" stroke-opacity="0.72" stroke-width="2.4"/>
<line x1="1801.7" y1="1759.8" x2="1801.7" y2="1743.3" stroke="#000" stroke-opacity="0.78" stroke-width="3"/>
<line x1="1789.7" y1="1743.3" x2="1813.7" y2="1743.3" stroke="#000" stroke-opacity="0.78" stroke-width="3"/>
<rect x="1780.4" y="1761" width="42.6" height="111.8" fill="#008200" stroke="#000" stroke-width="2.4"/>
<circle cx="1801.7" cy="1720.1" r="7.9" fill="#fff" stroke="#000" stroke-opacity="0.72" stroke-width="2.4"/>
<circle cx="1801.7" cy="1728.7" r="7.9" fill="#fff" stroke="#000" stroke-opacity="0.72" stroke-width="2.4"/>
<circle cx="1801.7" cy="1752.7" r="7.9" fill="#fff" stroke="#000" stroke-opacity="0.72" stroke-width="2.4"/>
<circle cx="1801.7" cy="1769.8" r="7.9" fill="#fff" stroke="#000" stroke-opacity="0.72" stroke-width="2.4"/>
<circle cx="1801.7" cy="1832" r="7.9" fill="#fff" stroke="#000" stroke-opacity="0.72" stroke-width="2.4"/>
<text x="1724.2" y="1956" text-anchor="middle" font-size="60" font-weight="bold" font-style="italic" fill="#000" textLength="140.3" lengthAdjust="spacingAndGlyphs">Plin2</text>
<text x="1725" y="2045" text-anchor="middle" font-size="52" fill="#000" textLength="74.2" lengthAdjust="spacingAndGlyphs">NR</text>
<line x1="1725" y1="1876.5" x2="1725" y2="1900" stroke="#000" stroke-width="7.5"/>
<line x1="1898.4" y1="1704.6" x2="1898.4" y2="1671.9" stroke="#000" stroke-opacity="0.78" stroke-width="3"/>
<line x1="1886.4" y1="1671.9" x2="1910.4" y2="1671.9" stroke="#000" stroke-opacity="0.78" stroke-width="3"/>
<rect x="1877.1" y="1705.8" width="42.6" height="167" fill="#ffffff" stroke="#000" stroke-width="2.4"/>
<circle cx="1898.4" cy="1612.5" r="7.9" fill="#fff" stroke="#000" stroke-opacity="0.72" stroke-width="2.4"/>
<circle cx="1898.4" cy="1687.4" r="7.9" fill="#fff" stroke="#000" stroke-opacity="0.72" stroke-width="2.4"/>
<circle cx="1898.4" cy="1737.1" r="7.9" fill="#fff" stroke="#000" stroke-opacity="0.72" stroke-width="2.4"/>
<circle cx="1898.4" cy="1786.8" r="7.9" fill="#fff" stroke="#000" stroke-opacity="0.72" stroke-width="2.4"/>
<line x1="1949.7" y1="1606.3" x2="1949.7" y2="1504.9" stroke="#000" stroke-opacity="0.78" stroke-width="3"/>
<line x1="1937.7" y1="1504.9" x2="1961.7" y2="1504.9" stroke="#000" stroke-opacity="0.78" stroke-width="3"/>
<rect x="1928.4" y="1607.5" width="42.6" height="265.3" fill="#000000" stroke="#000" stroke-width="2.4"/>
<circle cx="1949.7" cy="1279.7" r="7.9" fill="#fff" stroke="#000" stroke-opacity="0.72" stroke-width="2.4"/>
<circle cx="1949.7" cy="1468.1" r="7.9" fill="#fff" stroke="#000" stroke-opacity="0.72" stroke-width="2.4"/>
<circle cx="1949.7" cy="1723" r="7.9" fill="#fff" stroke="#000" stroke-opacity="0.72" stroke-width="2.4"/>
<circle cx="1949.7" cy="1762.5" r="7.9" fill="#fff" stroke="#000" stroke-opacity="0.72" stroke-width="2.4"/>
<circle cx="1949.7" cy="1786.8" r="7.9" fill="#fff" stroke="#000" stroke-opacity="0.72" stroke-width="2.4"/>
<line x1="2000.2" y1="1578.4" x2="2000.2" y2="1510.5" stroke="#000" stroke-opacity="0.78" stroke-width="3"/>
<line x1="1988.2" y1="1510.5" x2="2012.2" y2="1510.5" stroke="#000" stroke-opacity="0.78" stroke-width="3"/>
<rect x="1978.9" y="1579.6" width="42.6" height="293.1" fill="#aadfab" stroke="#000" stroke-width="2.4"/>
<circle cx="2000.2" cy="1292.6" r="7.9" fill="#fff" stroke="#000" stroke-opacity="0.72" stroke-width="2.4"/>
<circle cx="2000.2" cy="1521.9" r="7.9" fill="#fff" stroke="#000" stroke-opacity="0.72" stroke-width="2.4"/>
<circle cx="2000.2" cy="1572.2" r="7.9" fill="#fff" stroke="#000" stroke-opacity="0.72" stroke-width="2.4"/>
<circle cx="2000.2" cy="1626.7" r="7.9" fill="#fff" stroke="#000" stroke-opacity="0.72" stroke-width="2.4"/>
<circle cx="2000.2" cy="1679" r="7.9" fill="#fff" stroke="#000" stroke-opacity="0.72" stroke-width="2.4"/>
<circle cx="2000.2" cy="1768.4" r="7.9" fill="#fff" stroke="#000" stroke-opacity="0.72" stroke-width="2.4"/>
<line x1="2051.4" y1="1595.4" x2="2051.4" y2="1540.3" stroke="#000" stroke-opacity="0.78" stroke-width="3"/>
<line x1="2039.4" y1="1540.3" x2="2063.4" y2="1540.3" stroke="#000" stroke-opacity="0.78" stroke-width="3"/>
<rect x="2030.1" y="1596.6" width="42.6" height="276.1" fill="#008200" stroke="#000" stroke-width="2.4"/>
<circle cx="2051.4" cy="1371.8" r="7.9" fill="#fff" stroke="#000" stroke-opacity="0.72" stroke-width="2.4"/>
<circle cx="2051.4" cy="1563" r="7.9" fill="#fff" stroke="#000" stroke-opacity="0.72" stroke-width="2.4"/>
<circle cx="2051.4" cy="1571.4" r="7.9" fill="#fff" stroke="#000" stroke-opacity="0.72" stroke-width="2.4"/>
<circle cx="2051.4" cy="1599.7" r="7.9" fill="#fff" stroke="#000" stroke-opacity="0.72" stroke-width="2.4"/>
<circle cx="2051.4" cy="1724.4" r="7.9" fill="#fff" stroke="#000" stroke-opacity="0.72" stroke-width="2.4"/>
<circle cx="2051.4" cy="1742.8" r="7.9" fill="#fff" stroke="#000" stroke-opacity="0.72" stroke-width="2.4"/>
<text x="1973.9" y="1956" text-anchor="middle" font-size="60" font-weight="bold" font-style="italic" fill="#000" textLength="139.3" lengthAdjust="spacingAndGlyphs">Plin5</text>
<line x1="1974.7" y1="1876.5" x2="1974.7" y2="1900" stroke="#000" stroke-width="7.5"/>
<line x1="354.5" y1="1185" x2="354.5" y2="1880.2" stroke="#000" stroke-width="7.5"/>
<line x1="331" y1="1876.5" x2="2102" y2="1876.5" stroke="#000" stroke-width="7.5"/>
<line x1="331" y1="1188.5" x2="354.5" y2="1188.5" stroke="#000" stroke-width="7.5"/>
<text x="324" y="1205.1" text-anchor="end" font-size="52" fill="#000">400</text>
<line x1="331" y1="1361.5" x2="354.5" y2="1361.5" stroke="#000" stroke-width="7.5"/>
<text x="324" y="1378.1" text-anchor="end" font-size="52" fill="#000">300</text>
<line x1="331" y1="1533.5" x2="354.5" y2="1533.5" stroke="#000" stroke-width="7.5"/>
<text x="324" y="1550.1" text-anchor="end" font-size="52" fill="#000">200</text>
<line x1="331" y1="1704.5" x2="354.5" y2="1704.5" stroke="#000" stroke-width="7.5"/>
<text x="324" y="1721.1" text-anchor="end" font-size="52" fill="#000">100</text>
<line x1="331" y1="1876.5" x2="354.5" y2="1876.5" stroke="#000" stroke-width="7.5"/>
<text x="324" y="1893.1" text-anchor="end" font-size="52" fill="#000">0</text>
<line x1="339.5" y1="1275" x2="354.5" y2="1275" stroke="#000" stroke-width="7.5"/>
<line x1="339.5" y1="1447.5" x2="354.5" y2="1447.5" stroke="#000" stroke-width="7.5"/>
<line x1="339.5" y1="1619" x2="354.5" y2="1619" stroke="#000" stroke-width="7.5"/>
<line x1="339.5" y1="1790.5" x2="354.5" y2="1790.5" stroke="#000" stroke-width="7.5"/>
<text x="1251.3" y="1719.6" text-anchor="middle" font-size="69" fill="#000" stroke="#000" stroke-width="0.9">*</text>
<text x="1801.6" y="1657.3" text-anchor="middle" font-size="69" fill="#000" stroke="#000" stroke-width="0.9">*</text>
<text transform="translate(162 2529.7) rotate(-90)" text-anchor="middle" font-size="60" font-weight="bold" textLength="280" lengthAdjust="spacingAndGlyphs" fill="#000">mRNA (%)</text>
<line x1="400.3" y1="2746.4" x2="400.3" y2="2720.2" stroke="#000" stroke-opacity="0.78" stroke-width="3"/>
<line x1="388.3" y1="2720.2" x2="412.3" y2="2720.2" stroke="#000" stroke-opacity="0.78" stroke-width="3"/>
<rect x="379.5" y="2747.6" width="41.6" height="130.1" fill="#ffffff" stroke="#000" stroke-width="2.4"/>
<circle cx="400.3" cy="2666.1" r="7.9" fill="#fff" stroke="#000" stroke-opacity="0.72" stroke-width="2.4"/>
<circle cx="400.3" cy="2726.2" r="7.9" fill="#fff" stroke="#000" stroke-opacity="0.72" stroke-width="2.4"/>
<circle cx="400.3" cy="2757" r="7.9" fill="#fff" stroke="#000" stroke-opacity="0.72" stroke-width="2.4"/>
<circle cx="400.3" cy="2816.3" r="7.9" fill="#fff" stroke="#000" stroke-opacity="0.72" stroke-width="2.4"/>
<line x1="450.1" y1="2746.4" x2="450.1" y2="2723.2" stroke="#000" stroke-opacity="0.78" stroke-width="3"/>
<line x1="438.1" y1="2723.2" x2="462.1" y2="2723.2" stroke="#000" stroke-opacity="0.78" stroke-width="3"/>
<rect x="429.3" y="2747.6" width="41.6" height="130.1" fill="#000000" stroke="#000" stroke-width="2.4"/>
<circle cx="450.1" cy="2727.7" r="7.9" fill="#fff" stroke="#000" stroke-opacity="0.72" stroke-width="2.4"/>
<circle cx="450.1" cy="2732.2" r="7.9" fill="#fff" stroke="#000" stroke-opacity="0.72" stroke-width="2.4"/>
<circle cx="450.1" cy="2757.7" r="7.9" fill="#fff" stroke="#000" stroke-opacity="0.72" stroke-width="2.4"/>
<circle cx="450.1" cy="2761.5" r="7.9" fill="#fff" stroke="#000" stroke-opacity="0.72" stroke-width="2.4"/>
<line x1="499.6" y1="2678.1" x2="499.6" y2="2653.8" stroke="#000" stroke-opacity="0.78" stroke-width="3"/>
<line x1="487.6" y1="2653.8" x2="511.6" y2="2653.8" stroke="#000" stroke-opacity="0.78" stroke-width="3"/>
<rect x="478.8" y="2679.3" width="41.6" height="198.5" fill="#aadfab" stroke="#000" stroke-width="2.4"/>
<circle cx="499.6" cy="2621" r="7.9" fill="#fff" stroke="#000" stroke-opacity="0.72" stroke-width="2.4"/>
<circle cx="499.6" cy="2631.5" r="7.9" fill="#fff" stroke="#000" stroke-opacity="0.72" stroke-width="2.4"/>
<circle cx="499.6" cy="2676.6" r="7.9" fill="#fff" stroke="#000" stroke-opacity="0.72" stroke-width="2.4"/>
<circle cx="499.6" cy="2717.2" r="7.9" fill="#fff" stroke="#000" stroke-opacity="0.72" stroke-width="2.4"/>
<circle cx="499.6" cy="2735.9" r="7.9" fill="#fff" stroke="#000" stroke-opacity="0.72" stroke-width="2.4"/>
<line x1="549.4" y1="2727.4" x2="549.4" y2="2711.9" stroke="#000" stroke-opacity="0.78" stroke-width="3"/>
<line x1="537.4" y1="2711.9" x2="561.4" y2="2711.9" stroke="#000" stroke-opacity="0.78" stroke-width="3"/>
<rect x="528.6" y="2728.6" width="41.6" height="149.1" fill="#008200" stroke="#000" stroke-width="2.4"/>
<circle cx="549.4" cy="2662.3" r="7.9" fill="#fff" stroke="#000" stroke-opacity="0.72" stroke-width="2.4"/>
<circle cx="549.4" cy="2727.7" r="7.9" fill="#fff" stroke="#000" stroke-opacity="0.72" stroke-width="2.4"/>
<circle cx="549.4" cy="2739.7" r="7.9" fill="#fff" stroke="#000" stroke-opacity="0.72" stroke-width="2.4"/>
<circle cx="549.4" cy="2781.7" r="7.9" fill="#fff" stroke="#000" stroke-opacity="0.72" stroke-width="2.4"/>
<text x="474.1" y="2964.8" text-anchor="middle" font-size="60" font-weight="bold" font-style="italic" fill="#000" textLength="130.5" lengthAdjust="spacingAndGlyphs">Sirt1</text>
<text x="474.9" y="3052.8" text-anchor="middle" font-size="52" fill="#000" textLength="74.2" lengthAdjust="spacingAndGlyphs">NR</text>
<line x1="474.9" y1="2881.5" x2="474.9" y2="2905" stroke="#000" stroke-width="7.5"/>
<line x1="644.1" y1="2746.3" x2="644.1" y2="2722.3" stroke="#000" stroke-opacity="0.78" stroke-width="3"/>
<line x1="632.1" y1="2722.3" x2="656.1" y2="2722.3" stroke="#000" stroke-opacity="0.78" stroke-width="3"/>
<rect x="623.3" y="2747.5" width="41.6" height="130.2" fill="#ffffff" stroke="#000" stroke-width="2.4"/>
<circle cx="644.1" cy="2689.6" r="7.9" fill="#fff" stroke="#000" stroke-opacity="0.72" stroke-width="2.4"/>
<circle cx="644.1" cy="2715.8" r="7.9" fill="#fff" stroke="#000" stroke-opacity="0.72" stroke-width="2.4"/>
<circle cx="644.1" cy="2725.6" r="7.9" fill="#fff" stroke="#000" stroke-opacity="0.72" stroke-width="2.4"/>
<circle cx="644.1" cy="2773.5" r="7.9" fill="#fff" stroke="#000" stroke-opacity="0.72" stroke-width="2.4"/>
<circle cx="644.1" cy="2817" r="7.9" fill="#fff" stroke="#000" stroke-opacity="0.72" stroke-width="2.4"/>
<line x1="693.9" y1="2810.5" x2="693.9" y2="2798.5" stroke="#000" stroke-opacity="0.78" stroke-width="3"/>
<line x1="681.9" y1="2798.5" x2="705.9" y2="2798.5" stroke="#000" stroke-opacity="0.78" stroke-width="3"/>
<rect x="673.1" y="2811.7" width="41.6" height="66" fill="#000000" stroke="#000" stroke-width="2.4"/>
<circle cx="693.9" cy="2784.4" r="7.9" fill="#fff" stroke="#000" stroke-opacity="0.72" stroke-width="2.4"/>
<circle cx="693.9" cy="2794.2" r="7.9" fill="#fff" stroke="#000" stroke-opacity="0.72" stroke-width="2.4"/>
<circle cx="693.9" cy="2812.7" r="7.9" fill="#fff" stroke="#000" stroke-opacity="0.72" stroke-width="2.4"/>
<circle cx="693.9" cy="2844.3" r="7.9" fill="#fff" stroke="#000" stroke-opacity="0.72" stroke-width="2.4"/>
<line x1="743.4" y1="2711.4" x2="743.4" y2="2659.6" stroke="#000" stroke-opacity="0.78" stroke-width="3"/>
<line x1="731.4" y1="2659.6" x2="755.4" y2="2659.6" stroke="#000" stroke-opacity="0.78" stroke-width="3"/>
<rect x="722.6" y="2712.6" width="41.6" height="165.1" fill="#aadfab" stroke="#000" stroke-width="2.4"/>
<circle cx="743.4" cy="2508.9" r="7.9" fill="#fff" stroke="#000" stroke-opacity="0.72" stroke-width="2.4"/>
<circle cx="743.4" cy="2618.9" r="7.9" fill="#fff" stroke="#000" stroke-opacity="0.72" stroke-width="2.4"/>
<circle cx="743.4" cy="2741.9" r="7.9" fill="#fff" stroke="#000" stroke-opacity="0.72" stroke-width="2.4"/>
<circle cx="743.4" cy="2753.9" r="7.9" fill="#fff" stroke="#000" stroke-opacity="0.72" stroke-width="2.4"/>
<circle cx="743.4" cy="2807.2" r="7.9" fill="#fff" stroke="#000" stroke-opacity="0.72" stroke-width="2.4"/>
<circle cx="743.4" cy="2818.1" r="7.9" fill="#fff" stroke="#000" stroke-opacity="0.72" stroke-width="2.4"/>
<line x1="793.2" y1="2762.6" x2="793.2" y2="2744.1" stroke="#000" stroke-opacity="0.78" stroke-width="3"/>
<line x1="781.2" y1="2744.1" x2="805.2" y2="2744.1" stroke="#000" stroke-opacity="0.78" stroke-width="3"/>
<rect x="772.4" y="2763.8" width="41.6" height="114" fill="#008200" stroke="#000" stroke-width="2.4"/>
<circle cx="793.2" cy="2721.2" r="7.9" fill="#fff" stroke="#000" stroke-opacity="0.72" stroke-width="2.4"/>
<circle cx="793.2" cy="2771.3" r="7.9" fill="#fff" stroke="#000" stroke-opacity="0.72" stroke-width="2.4"/>
<circle cx="793.2" cy="2782.2" r="7.9" fill="#fff" stroke="#000" stroke-opacity="0.72" stroke-width="2.4"/>
<circle cx="793.2" cy="2809.4" r="7.9" fill="#fff" stroke="#000" stroke-opacity="0.72" stroke-width="2.4"/>
<text x="717.9" y="2964.8" text-anchor="middle" font-size="60" font-weight="bold" font-style="italic" fill="#000" textLength="249.9" lengthAdjust="spacingAndGlyphs">Gadd45a</text>
<line x1="718.7" y1="2881.5" x2="718.7" y2="2905" stroke="#000" stroke-width="7.5"/>
<line x1="887.9" y1="2746.3" x2="887.9" y2="2726.7" stroke="#000" stroke-opacity="0.78" stroke-width="3"/>
<line x1="875.9" y1="2726.7" x2="899.9" y2="2726.7" stroke="#000" stroke-opacity="0.78" stroke-width="3"/>
<rect x="867.1" y="2747.5" width="41.6" height="130.2" fill="#ffffff" stroke="#000" stroke-width="2.4"/>
<circle cx="887.9" cy="2683.1" r="7.9" fill="#fff" stroke="#000" stroke-opacity="0.72" stroke-width="2.4"/>
<circle cx="887.9" cy="2741.9" r="7.9" fill="#fff" stroke="#000" stroke-opacity="0.72" stroke-width="2.4"/>
<circle cx="887.9" cy="2750.6" r="7.9" fill="#fff" stroke="#000" stroke-opacity="0.72" stroke-width="2.4"/>
<circle cx="887.9" cy="2756.1" r="7.9" fill="#fff" stroke="#000" stroke-opacity="0.72" stroke-width="2.4"/>
<circle cx="887.9" cy="2790.9" r="7.9" fill="#fff" stroke="#000" stroke-opacity="0.72" stroke-width="2.4"/>
<line x1="937.7" y1="2718.4" x2="937.7" y2="2707" stroke="#000" stroke-opacity="0.78" stroke-width="3"/>
<line x1="925.7" y1="2707" x2="949.7" y2="2707" stroke="#000" stroke-opacity="0.78" stroke-width="3"/>
<rect x="916.9" y="2719.6" width="41.6" height="158.1" fill="#000000" stroke="#000" stroke-width="2.4"/>
<circle cx="937.7" cy="2677.7" r="7.9" fill="#fff" stroke="#000" stroke-opacity="0.72" stroke-width="2.4"/>
<circle cx="937.7" cy="2683.1" r="7.9" fill="#fff" stroke="#000" stroke-opacity="0.72" stroke-width="2.4"/>
<circle cx="937.7" cy="2697.3" r="7.9" fill="#fff" stroke="#000" stroke-opacity="0.72" stroke-width="2.4"/>
<circle cx="937.7" cy="2741.9" r="7.9" fill="#fff" stroke="#000" stroke-opacity="0.72" stroke-width="2.4"/>
<circle cx="937.7" cy="2785.5" r="7.9" fill="#fff" stroke="#000" stroke-opacity="0.72" stroke-width="2.4"/>
<line x1="987.2" y1="2664.6" x2="987.2" y2="2653.7" stroke="#000" stroke-opacity="0.78" stroke-width="3"/>
<line x1="975.2" y1="2653.7" x2="999.2" y2="2653.7" stroke="#000" stroke-opacity="0.78" stroke-width="3"/>
<rect x="966.4" y="2665.8" width="41.6" height="212" fill="#aadfab" stroke="#000" stroke-width="2.4"/>
<circle cx="987.2" cy="2610.8" r="7.9" fill="#fff" stroke="#000" stroke-opacity="0.72" stroke-width="2.4"/>
<circle cx="987.2" cy="2634.1" r="7.9" fill="#fff" stroke="#000" stroke-opacity="0.72" stroke-width="2.4"/>
<circle cx="987.2" cy="2642.8" r="7.9" fill="#fff" stroke="#000" stroke-opacity="0.72" stroke-width="2.4"/>
<circle cx="987.2" cy="2711.4" r="7.9" fill="#fff" stroke="#000" stroke-opacity="0.72" stroke-width="2.4"/>
<circle cx="987.2" cy="2720.1" r="7.9" fill="#fff" stroke="#000" stroke-opacity="0.72" stroke-width="2.4"/>
<line x1="1037" y1="2730.6" x2="1037" y2="2708.8" stroke="#000" stroke-opacity="0.78" stroke-width="3"/>
<line x1="1025" y1="2708.8" x2="1049" y2="2708.8" stroke="#000" stroke-opacity="0.78" stroke-width="3"/>
<rect x="1016.2" y="2731.8" width="41.6" height="146" fill="#008200" stroke="#000" stroke-width="2.4"/>
<circle cx="1037" cy="2677" r="7.9" fill="#fff" stroke="#000" stroke-opacity="0.72" stroke-width="2.4"/>
<circle cx="1037" cy="2716.9" r="7.9" fill="#fff" stroke="#000" stroke-opacity="0.72" stroke-width="2.4"/>
<circle cx="1037" cy="2748.4" r="7.9" fill="#fff" stroke="#000" stroke-opacity="0.72" stroke-width="2.4"/>
<circle cx="1037" cy="2806.1" r="7.9" fill="#fff" stroke="#000" stroke-opacity="0.72" stroke-width="2.4"/>
<text x="961.7" y="2964.8" text-anchor="middle" font-size="60" font-weight="bold" font-style="italic" fill="#000" textLength="141.4" lengthAdjust="spacingAndGlyphs">Sod2</text>
<text x="962.5" y="3052.8" text-anchor="middle" font-size="52" fill="#000" textLength="137.8" lengthAdjust="spacingAndGlyphs">NRxD</text>
<line x1="962.5" y1="2881.5" x2="962.5" y2="2905" stroke="#000" stroke-width="7.5"/>
<line x1="1131.7" y1="2746.3" x2="1131.7" y2="2724.1" stroke="#000" stroke-opacity="0.78" stroke-width="3"/>
<line x1="1119.7" y1="2724.1" x2="1143.7" y2="2724.1" stroke="#000" stroke-opacity="0.78" stroke-width="3"/>
<rect x="1110.9" y="2747.5" width="41.6" height="130.2" fill="#ffffff" stroke="#000" stroke-width="2.4"/>
<circle cx="1131.7" cy="2672.1" r="7.9" fill="#fff" stroke="#000" stroke-opacity="0.72" stroke-width="2.4"/>
<circle cx="1131.7" cy="2704.9" r="7.9" fill="#fff" stroke="#000" stroke-opacity="0.72" stroke-width="2.4"/>
<circle cx="1131.7" cy="2729.8" r="7.9" fill="#fff" stroke="#000" stroke-opacity="0.72" stroke-width="2.4"/>
<circle cx="1131.7" cy="2775.1" r="7.9" fill="#fff" stroke="#000" stroke-opacity="0.72" stroke-width="2.4"/>
<circle cx="1131.7" cy="2778.5" r="7.9" fill="#fff" stroke="#000" stroke-opacity="0.72" stroke-width="2.4"/>
<circle cx="1131.7" cy="2805.6" r="7.9" fill="#fff" stroke="#000" stroke-opacity="0.72" stroke-width="2.4"/>
<line x1="1181.5" y1="2742.2" x2="1181.5" y2="2713.9" stroke="#000" stroke-opacity="0.78" stroke-width="3"/>
<line x1="1169.5" y1="2713.9" x2="1193.5" y2="2713.9" stroke="#000" stroke-opacity="0.78" stroke-width="3"/>
<rect x="1160.7" y="2743.4" width="41.6" height="134.4" fill="#000000" stroke="#000" stroke-width="2.4"/>
<circle cx="1181.5" cy="2675.5" r="7.9" fill="#fff" stroke="#000" stroke-opacity="0.72" stroke-width="2.4"/>
<circle cx="1181.5" cy="2700.4" r="7.9" fill="#fff" stroke="#000" stroke-opacity="0.72" stroke-width="2.4"/>
<circle cx="1181.5" cy="2721.9" r="7.9" fill="#fff" stroke="#000" stroke-opacity="0.72" stroke-width="2.4"/>
<circle cx="1181.5" cy="2794.3" r="7.9" fill="#fff" stroke="#000" stroke-opacity="0.72" stroke-width="2.4"/>
<circle cx="1181.5" cy="2809" r="7.9" fill="#fff" stroke="#000" stroke-opacity="0.72" stroke-width="2.4"/>
<line x1="1231" y1="2653.9" x2="1231" y2="2569" stroke="#000" stroke-opacity="0.78" stroke-width="3"/>
<line x1="1219" y1="2569" x2="1243" y2="2569" stroke="#000" stroke-opacity="0.78" stroke-width="3"/>
<rect x="1210.2" y="2655.1" width="41.6" height="222.6" fill="#aadfab" stroke="#000" stroke-width="2.4"/>
<circle cx="1231" cy="2278.3" r="7.9" fill="#fff" stroke="#000" stroke-opacity="0.72" stroke-width="2.4"/>
<circle cx="1231" cy="2583.8" r="7.9" fill="#fff" stroke="#000" stroke-opacity="0.72" stroke-width="2.4"/>
<circle cx="1231" cy="2693.6" r="7.9" fill="#fff" stroke="#000" stroke-opacity="0.72" stroke-width="2.4"/>
<circle cx="1231" cy="2732" r="7.9" fill="#fff" stroke="#000" stroke-opacity="0.72" stroke-width="2.4"/>
<circle cx="1231" cy="2795.4" r="7.9" fill="#fff" stroke="#000" stroke-opacity="0.72" stroke-width="2.4"/>
<circle cx="1231" cy="2828.3" r="7.9" fill="#fff" stroke="#000" stroke-opacity="0.72" stroke-width="2.4"/>
<line x1="1280.8" y1="2760.3" x2="1280.8" y2="2745.6" stroke="#000" stroke-opacity="0.78" stroke-width="3"/>
<line x1="1268.8" y1="2745.6" x2="1292.8" y2="2745.6" stroke="#000" stroke-opacity="0.78" stroke-width="3"/>
<rect x="1260" y="2761.5" width="41.6" height="116.2" fill="#008200" stroke="#000" stroke-width="2.4"/>
<circle cx="1280.8" cy="2708.3" r="7.9" fill="#fff" stroke="#000" stroke-opacity="0.72" stroke-width="2.4"/>
<circle cx="1280.8" cy="2745.6" r="7.9" fill="#fff" stroke="#000" stroke-opacity="0.72" stroke-width="2.4"/>
<circle cx="1280.8" cy="2751.3" r="7.9" fill="#fff" stroke="#000" stroke-opacity="0.72" stroke-width="2.4"/>
<circle cx="1280.8" cy="2770.5" r="7.9" fill="#fff" stroke="#000" stroke-opacity="0.72" stroke-width="2.4"/>
<circle cx="1280.8" cy="2805.6" r="7.9" fill="#fff" stroke="#000" stroke-opacity="0.72" stroke-width="2.4"/>
<text x="1205.5" y="2964.8" text-anchor="middle" font-size="60" font-weight="bold" font-style="italic" fill="#000" textLength="192.6" lengthAdjust="spacingAndGlyphs">Prkaa1</text>
<line x1="1206.3" y1="2881.5" x2="1206.3" y2="2905" stroke="#000" stroke-width="7.5"/>
<line x1="1376.4" y1="2746.2" x2="1376.4" y2="2727.4" stroke="#000" stroke-opacity="0.78" stroke-width="3"/>
<line x1="1364.4" y1="2727.4" x2="1388.4" y2="2727.4" stroke="#000" stroke-opacity="0.78" stroke-width="3"/>
<rect x="1355.6" y="2747.4" width="41.6" height="130.4" fill="#ffffff" stroke="#000" stroke-width="2.4"/>
<circle cx="1376.4" cy="2669.3" r="7.9" fill="#fff" stroke="#000" stroke-opacity="0.72" stroke-width="2.4"/>
<circle cx="1376.4" cy="2719.5" r="7.9" fill="#fff" stroke="#000" stroke-opacity="0.72" stroke-width="2.4"/>
<circle cx="1376.4" cy="2732.1" r="7.9" fill="#fff" stroke="#000" stroke-opacity="0.72" stroke-width="2.4"/>
<circle cx="1376.4" cy="2777.5" r="7.9" fill="#fff" stroke="#000" stroke-opacity="0.72" stroke-width="2.4"/>
<circle cx="1376.4" cy="2785.4" r="7.9" fill="#fff" stroke="#000" stroke-opacity="0.72" stroke-width="2.4"/>
<line x1="1426.2" y1="2652.1" x2="1426.2" y2="2594" stroke="#000" stroke-opacity="0.78" stroke-width="3"/>
<line x1="1414.2" y1="2594" x2="1438.2" y2="2594" stroke="#000" stroke-opacity="0.78" stroke-width="3"/>
<rect x="1405.4" y="2653.3" width="41.6" height="224.5" fill="#000000" stroke="#000" stroke-width="2.4"/>
<circle cx="1426.2" cy="2463.9" r="7.9" fill="#fff" stroke="#000" stroke-opacity="0.72" stroke-width="2.4"/>
<circle cx="1426.2" cy="2573.7" r="7.9" fill="#fff" stroke="#000" stroke-opacity="0.72" stroke-width="2.4"/>
<circle cx="1426.2" cy="2710.1" r="7.9" fill="#fff" stroke="#000" stroke-opacity="0.72" stroke-width="2.4"/>
<circle cx="1426.2" cy="2746.2" r="7.9" fill="#fff" stroke="#000" stroke-opacity="0.72" stroke-width="2.4"/>
<circle cx="1426.2" cy="2757.2" r="7.9" fill="#fff" stroke="#000" stroke-opacity="0.72" stroke-width="2.4"/>
<line x1="1475.7" y1="2547.6" x2="1475.7" y2="2463.9" stroke="#000" stroke-opacity="0.78" stroke-width="3"/>
<line x1="1463.7" y1="2463.9" x2="1487.7" y2="2463.9" stroke="#000" stroke-opacity="0.78" stroke-width="3"/>
<rect x="1454.9" y="2548.8" width="41.6" height="329" fill="#aadfab" stroke="#000" stroke-width="2.4"/>
<circle cx="1475.7" cy="2420" r="7.9" fill="#fff" stroke="#000" stroke-opacity="0.72" stroke-width="2.4"/>
<circle cx="1475.7" cy="2434.1" r="7.9" fill="#fff" stroke="#000" stroke-opacity="0.72" stroke-width="2.4"/>
<circle cx="1475.7" cy="2552.6" r="7.9" fill="#fff" stroke="#000" stroke-opacity="0.72" stroke-width="2.4"/>
<circle cx="1475.7" cy="2785.4" r="7.9" fill="#fff" stroke="#000" stroke-opacity="0.72" stroke-width="2.4"/>
<line x1="1525.5" y1="2650.5" x2="1525.5" y2="2610.4" stroke="#000" stroke-opacity="0.78" stroke-width="3"/>
<line x1="1513.5" y1="2610.4" x2="1537.5" y2="2610.4" stroke="#000" stroke-opacity="0.78" stroke-width="3"/>
<rect x="1504.7" y="2651.7" width="41.6" height="226.1" fill="#008200" stroke="#000" stroke-width="2.4"/>
<circle cx="1525.5" cy="2524.4" r="7.9" fill="#fff" stroke="#000" stroke-opacity="0.72" stroke-width="2.4"/>
<circle cx="1525.5" cy="2571.5" r="7.9" fill="#fff" stroke="#000" stroke-opacity="0.72" stroke-width="2.4"/>
<circle cx="1525.5" cy="2631.7" r="7.9" fill="#fff" stroke="#000" stroke-opacity="0.72" stroke-width="2.4"/>
<circle cx="1525.5" cy="2666.2" r="7.9" fill="#fff" stroke="#000" stroke-opacity="0.72" stroke-width="2.4"/>
<circle cx="1525.5" cy="2749.3" r="7.9" fill="#fff" stroke="#000" stroke-opacity="0.72" stroke-width="2.4"/>
<text x="1450.2" y="2964.8" text-anchor="middle" font-size="60" font-weight="bold" font-style="italic" fill="#000" textLength="192.6" lengthAdjust="spacingAndGlyphs">Prkaa2</text>
<line x1="1451" y1="2881.5" x2="1451" y2="2905" stroke="#000" stroke-width="7.5"/>
<line x1="354.5" y1="2189.5" x2="354.5" y2="2885.2" stroke="#000" stroke-width="7.5"/>
<line x1="331" y1="2881.5" x2="1575" y2="2881.5" stroke="#000" stroke-width="7.5"/>
<line x1="331" y1="2193" x2="354.5" y2="2193" stroke="#000" stroke-width="7.5"/>
<text x="324" y="2209.6" text-anchor="end" font-size="52" fill="#000">500</text>
<line x1="331" y1="2331.4" x2="354.5" y2="2331.4" stroke="#000" stroke-width="7.5"/>
<text x="324" y="2348" text-anchor="end" font-size="52" fill="#000">400</text>
<line x1="331" y1="2468.6" x2="354.5" y2="2468.6" stroke="#000" stroke-width="7.5"/>
<text x="324" y="2485.2" text-anchor="end" font-size="52" fill="#000">300</text>
<line x1="331" y1="2608" x2="354.5" y2="2608" stroke="#000" stroke-width="7.5"/>
<text x="324" y="2624.6" text-anchor="end" font-size="52" fill="#000">200</text>
<line x1="331" y1="2746.5" x2="354.5" y2="2746.5" stroke="#000" stroke-width="7.5"/>
<text x="324" y="2763.1" text-anchor="end" font-size="52" fill="#000">100</text>
<line x1="331" y1="2881.5" x2="354.5" y2="2881.5" stroke="#000" stroke-width="7.5"/>
<text x="324" y="2898.1" text-anchor="end" font-size="52" fill="#000">0</text>
<line x1="339.5" y1="2263.5" x2="354.5" y2="2263.5" stroke="#000" stroke-width="7.5"/>
<line x1="339.5" y1="2399.3" x2="354.5" y2="2399.3" stroke="#000" stroke-width="7.5"/>
<line x1="339.5" y1="2537.4" x2="354.5" y2="2537.4" stroke="#000" stroke-width="7.5"/>
<line x1="339.5" y1="2676.5" x2="354.5" y2="2676.5" stroke="#000" stroke-width="7.5"/>
<line x1="339.5" y1="2813.7" x2="354.5" y2="2813.7" stroke="#000" stroke-width="7.5"/>
<text x="691.2" y="2702.1" text-anchor="middle" font-size="44" font-weight="bold" textLength="28.6" lengthAdjust="spacingAndGlyphs" style="font-family:'DejaVu Sans',sans-serif" fill="#000">#</text>
<text x="790.5" y="2641.4" text-anchor="middle" font-size="69" fill="#000" stroke="#000" stroke-width="0.9">*</text>
<text x="984.8" y="2526" text-anchor="middle" font-size="69" fill="#000" stroke="#000" stroke-width="0.9">*</text>
<text x="1475.8" y="2338.5" text-anchor="middle" font-size="69" fill="#000" stroke="#000" stroke-width="0.9">*</text>
</svg>
</body></html>
